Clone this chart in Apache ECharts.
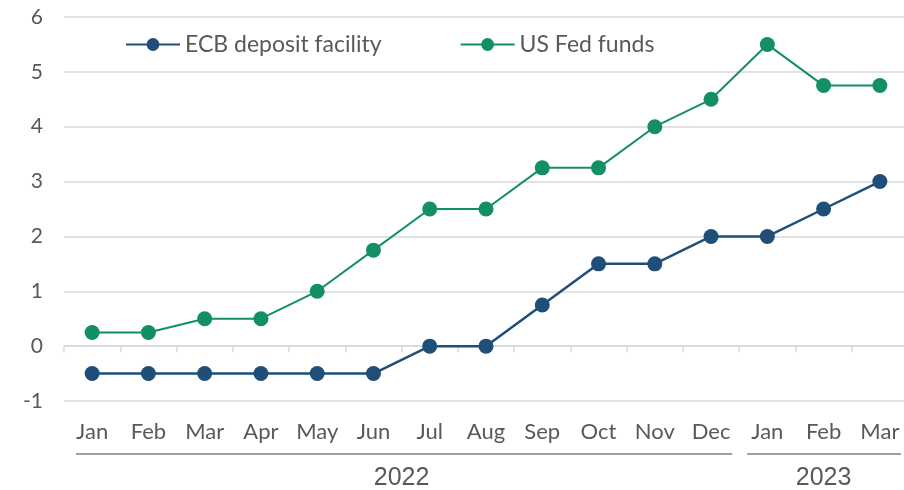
<!DOCTYPE html>
<html>
<head>
    <meta charset="utf-8">
    <title>Policy rates</title>
    <script src="https://cdn.jsdelivr.net/npm/echarts@6/dist/echarts.min.js"></script>
</head>
<body style="margin:0;overflow:hidden">
    <!-- the plot runs a little past the right edge, as in the original -->
    <div id="main" style="width: 908px;height:490px;"></div>
<script type="text/javascript">
    // monthly policy rates, Jan 2022 - Mar 2023
    var months = ['Jan', 'Feb', 'Mar', 'Apr', 'May', 'Jun', 'Jul', 'Aug', 'Sep', 'Oct', 'Nov', 'Dec', 'Jan', 'Feb', 'Mar'];
    var ecbRate = [-0.5, -0.5, -0.5, -0.5, -0.5, -0.5, 0, 0, 0.75, 1.5, 1.5, 2, 2, 2.5, 3];
    var fedRate = [0.25, 0.25, 0.5, 0.5, 1, 1.75, 2.5, 2.5, 3.25, 3.25, 4, 4.5, 5.5, 4.75, 4.75];
    // year groups: label, first month index, last month index
    var years = [['2022', 0, 11], ['2023', 12, 14]];

    var textColor = '#595959';
    var font = 'Lato';
    var myChart = echarts.init(document.getElementById('main'));

    var option = {
        backgroundColor: '#fff',
        animation: false,
        grid: { left: 64, right: 0, top: 17, bottom: 89 },
        legend: {
            left: 120,
            top: 28,
            itemWidth: 54,
            itemHeight: 16,
            itemGap: 78,
            textStyle: { color: textColor, fontSize: 23, fontFamily: font }
        },
        xAxis: [
            {
                type: 'category',
                data: months,
                position: 'bottom',
                axisLine: { show: false, onZero: false },
                axisTick: { show: false },
                axisLabel: { color: textColor, fontSize: 22, fontFamily: font, margin: 20, interval: 0 }
            },
            {
                // zero line ticks
                type: 'category',
                data: months,
                position: 'bottom',
                axisLine: { show: true, onZero: true, lineStyle: { color: '#d9d9d9', width: 1.5 } },
                axisTick: { show: true, length: 6, interval: 0, lineStyle: { color: '#d9d9d9', width: 1.5 } },
                axisLabel: { show: false }
            }
        ],
        yAxis: {
            type: 'value',
            min: -1,
            max: 6,
            interval: 1,
            axisLine: { show: false },
            axisTick: { show: false },
            axisLabel: { color: textColor, fontSize: 21, fontFamily: font, margin: 21 },
            splitLine: { lineStyle: { color: '#d9d9d9', width: 1.5 } }
        },
        series: [
            {
                name: 'ECB deposit facility',
                type: 'line',
                data: ecbRate,
                symbol: 'circle',
                symbolSize: 15,
                itemStyle: { color: '#1f4e79' },
                lineStyle: { color: '#1f4e79', width: 2.5 }
            },
            {
                name: 'US Fed funds',
                type: 'line',
                data: fedRate,
                symbol: 'circle',
                symbolSize: 15,
                itemStyle: { color: '#138f65' },
                lineStyle: { color: '#138f65', width: 2 }
            }
        ]
    };
    myChart.setOption(option);

    // year underlines and labels, placed from the category axis
    var x0 = myChart.convertToPixel({ xAxisIndex: 0 }, 0);
    var x1 = myChart.convertToPixel({ xAxisIndex: 0 }, 1);
    var step = x1 - x0;
    var graphics = [];
    years.forEach(function (y, i) {
        var left = myChart.convertToPixel({ xAxisIndex: 0 }, y[1]) - step / 2;
        var right = myChart.convertToPixel({ xAxisIndex: 0 }, y[2]) + step / 2;
        graphics.push({
            type: 'line',
            shape: { x1: left + (i === 0 ? 12 : 8), y1: 454, x2: right - 7, y2: 454 },
            style: { stroke: '#7f7f7f', lineWidth: 1.5 }
        });
        graphics.push({
            type: 'text',
            x: (left + right) / 2,
            y: 478,
            style: {
                text: y[0], fill: textColor, fontSize: 25, fontFamily: 'Liberation Sans',
                textAlign: 'center', textVerticalAlign: 'middle'
            }
        });
    });
    myChart.setOption({ graphic: graphics });
</script>
</body>
</html>
